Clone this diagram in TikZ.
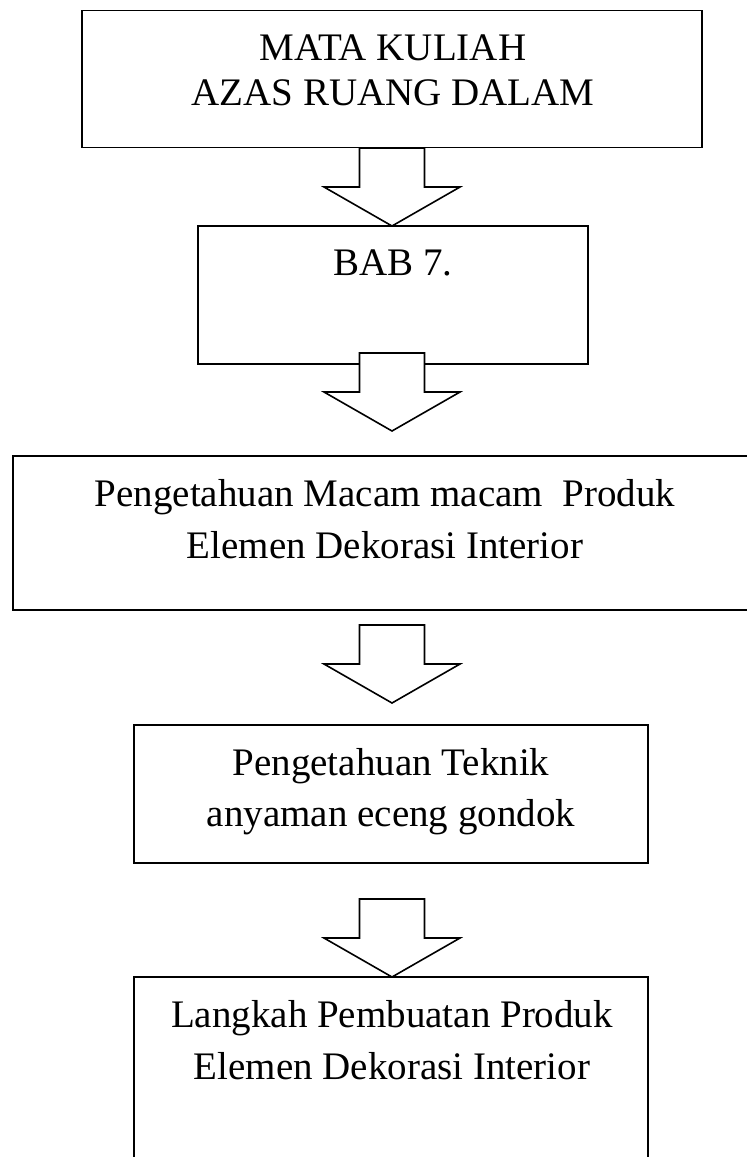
\documentclass[tikz,border=0pt]{standalone}
\usepackage{fontspec}
\setmainfont{Liberation Serif}
\tikzset{
  box/.style={draw, line width=1.6pt, inner sep=0pt, outer sep=0pt},
  txt/.style={align=center, anchor=base, inner sep=0pt, font=\fontsize{39}{52}\selectfont},
  blkarr/.style={draw, fill=white, line width=1.6pt, line join=miter}
}
\begin{document}
\begin{tikzpicture}[x=1pt,y=-1pt]
\useasboundingbox (0,0) rectangle (747,1157);
% boxes
\node[box, minimum width=620pt, minimum height=137pt] (matkul) at (392,79) {};
\node[box, minimum width=390pt, minimum height=138pt] (bab) at (393,295) {};
\node[box, minimum width=740pt, minimum height=154pt] (macam) at (383,533) {};
\node[box, minimum width=514pt, minimum height=138pt] (teknik) at (391,794) {};
\node[box, minimum width=514pt, minimum height=220pt] (langkah) at (391,1087) {};
% texts (base = last line)
\node[txt, font=\fontsize{39}{45}\selectfont] (tmatkul) at (393,105) {MATA KULIAH\\AZAS RUANG DALAM};
\node[txt] (tbab) at (393,275) {BAB 7.};
\node[txt] (tmacam) at (385,558) {Pengetahuan Macam macam\ \ Produk\\Elemen Dekorasi Interior};
\node[txt, font=\fontsize{39}{51}\selectfont] (tteknik) at (391,826) {Pengetahuan Teknik\\anyaman eceng gondok};
\node[txt] (tlangkah) at (392,1079) {Langkah Pembuatan Produk\\Elemen Dekorasi Interior};
% block arrows
\coordinate (a1) at (392,148);
\coordinate (a2) at (392,353);
\coordinate (a3) at (392,625);
\coordinate (a4) at (392,899);
\foreach \a in {a1,a2,a3,a4}
  \draw[blkarr] (\a) ++(-32.5,0) -- ++(65,0) -- ++(0,39) -- ++(35.5,0) -- ++(-68,39) -- ++(-68,-39) -- ++(35.5,0) -- cycle;
\end{tikzpicture}
\end{document}
